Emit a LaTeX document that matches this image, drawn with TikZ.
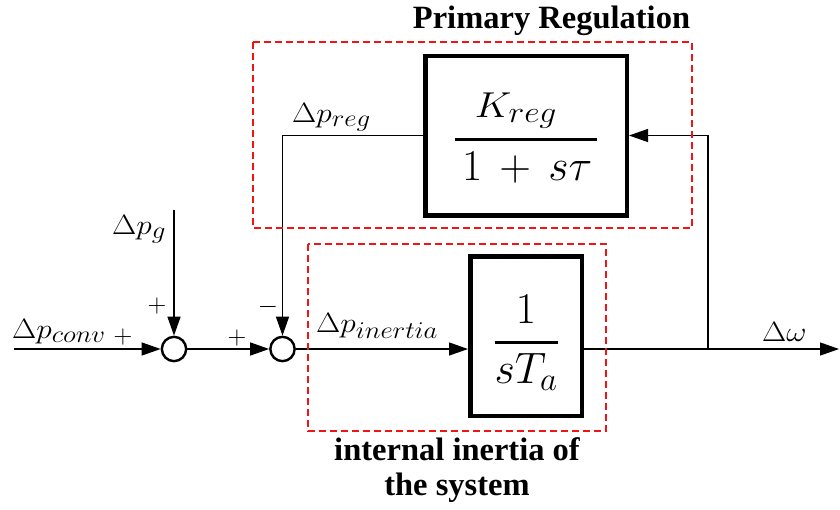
\RequirePackage{fix-cm}
\documentclass[tikz,border=0pt]{standalone}
\usepackage{amsmath}
\usepackage{fontspec}
\newfontfamily\capfont{Liberation Serif}
\usetikzlibrary{arrows.meta}
\definecolor{regred}{RGB}{240,20,20}
\DeclareMathSizes{44}{44}{33}{24}
\DeclareMathSizes{36}{36}{30}{22}
\DeclareMathSizes{28}{28}{24}{17}
\newcommand\wide[1]{\scalebox{1.12}[1]{#1}}
\begin{document}
\begin{tikzpicture}[x=1pt,y=-1pt,
  conn/.style={line width=1.3pt},
  arr/.style={conn,-{Triangle[length=19pt,width=13pt]}},
  sumnode/.style={circle, draw, line width=2.4pt, minimum size=24.3pt, inner sep=0pt, fill=white},
  tfbox/.style={draw, line width=4.5pt, inner sep=0pt, fill=white, font=\fontsize{44}{50}\selectfont},
  region/.style={draw=regred, line width=2pt, dash pattern=on 7pt off 4pt},
  lbl/.style={inner sep=0pt, font=\fontsize{28}{32}\selectfont},
  sgn/.style={inner sep=0pt, font=\fontsize{26}{30}\selectfont},
  captxt/.style={inner sep=0pt, font=\capfont\bfseries\fontsize{32.5}{35}\selectfont, align=center}]
\useasboundingbox (0,0) rectangle (840,509);

% blocks
\node[sumnode] (s1) at (174,349) {};
\node[sumnode] (s2) at (282.5,349) {};
\node[tfbox, minimum width=201.5pt, minimum height=159.5pt] (K) at (526,135.5)
  {\rule{0pt}{62pt}$\genfrac{}{}{3pt}{0}{\wide{\fontsize{36}{40}\selectfont$K_{reg}$}}{\mkern3mu 1\mkern3mu+\mkern3mu s\tau\mkern2mu}$};
\node[tfbox, minimum width=111.5pt, minimum height=159.5pt] (G) at (526,336)
  {\rule{0pt}{72pt}$\genfrac{}{}{3pt}{0}{1}{sT_{a}}$};

% free ends
\coordinate (in) at (14,349);
\coordinate (gin) at (174,210);
\coordinate (br) at (708,349);
\coordinate (out) at (839,349);

% connectors
\draw[arr] (in) -- (s1);
\draw[arr] (gin) -- (s1);
\draw[arr] (s1) -- (s2);
\draw[arr] (s2) -- (s2 -| G.west);
\draw[arr] (G.east |- s2) -- (out);
\draw[arr] (br) |- (K.east);
\draw[arr] (K.west) -| (s2);

% labels
\node[lbl, anchor=base west] (lconv) at (12,338) {\wide{$\Delta p_{conv}$}};
\node[lbl, anchor=base west] (lg) at (112,234) {\wide{$\Delta p_{g}$}};
\node[lbl, anchor=base west] (lreg) at (292,122) {\wide{$\Delta p_{reg}$}};
\node[lbl, anchor=base west] (lin) at (316,332) {\wide{$\Delta p_{inertia}$}};
\node[lbl, anchor=base west] (lw) at (762,341) {\wide{$\Delta\omega$}};

\node[sgn] (p1) at (123,337) {$+$};
\node[sgn] (p2) at (157,306) {$+$};
\node[sgn] (p3) at (237,338) {$+$};
\node[sgn] (m1) at (268,307) {$-$};

% regions
\draw[region] (253,42) rectangle (692,228);
\draw[region] (308,244) rectangle (606,431);

\node[captxt, anchor=base] (captop) at (551.5,28) {Primary Regulation};
\node[captxt, anchor=north] (capbot) at (457,437.5) {internal inertia of\\the system};
\end{tikzpicture}
\end{document}
